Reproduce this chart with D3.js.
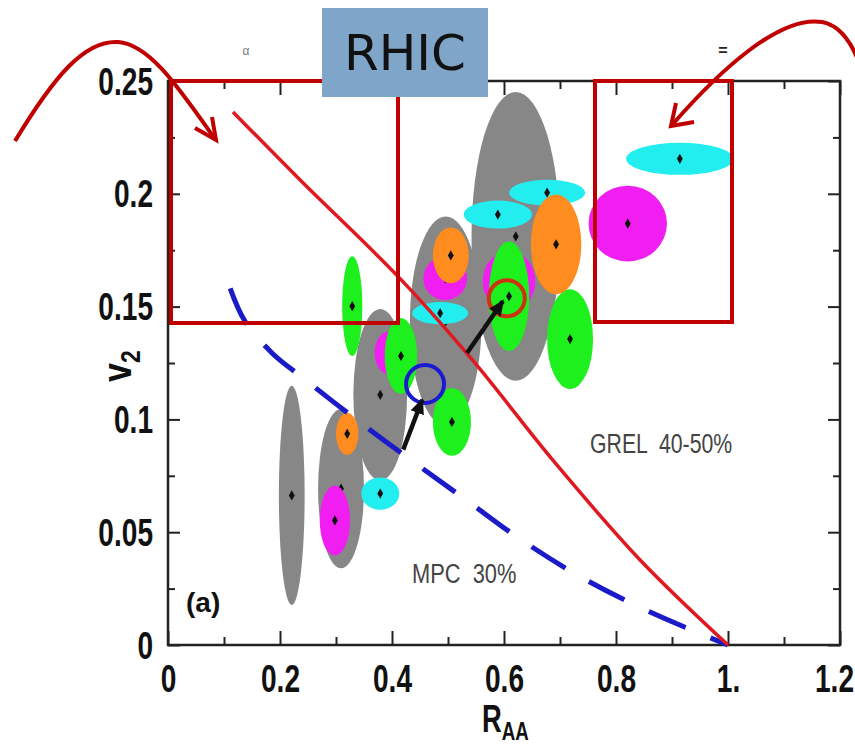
<!DOCTYPE html>
<meta charset="utf-8">
<style>
  body { margin: 0; background: #fff; }
  svg { display: block; font-family: 'Liberation Sans', Arial, sans-serif; }
  .domain { stroke: none; }
  .tick line { stroke: #222; stroke-width: 2; }
</style>
<body>
<script src="https://d3js.org/d3.v7.min.js"></script>
<script>
var width = 855, height = 747;

// data: centre (x = R_AA, y = v2) and half extents ex, ey
var grayPts = [
  {x: 0.221, y: 0.0663, ex: 0.023, ey: 0.0486},
  {x: 0.309, y: 0.0693, ex: 0.041, ey: 0.0353},
  {x: 0.379, y: 0.1109, ex: 0.048, ey: 0.038},
  {x: 0.496, y: 0.1435, ex: 0.064, ey: 0.0464},
  {x: 0.621, y: 0.1811, ex: 0.079, ey: 0.064}
];
var cyanPts = [
  {x: 0.379, y: 0.0671, ex: 0.034, ey: 0.0071},
  {x: 0.486, y: 0.1471, ex: 0.05, ey: 0.0049},
  {x: 0.589, y: 0.1908, ex: 0.061, ey: 0.0062},
  {x: 0.677, y: 0.2005, ex: 0.068, ey: 0.0057},
  {x: 0.914, y: 0.2155, ex: 0.096, ey: 0.0071}
];
var magentaPts = [
  {x: 0.298, y: 0.0552, ex: 0.027, ey: 0.0155},
  {x: 0.396, y: 0.1294, ex: 0.027, ey: 0.0097},
  {x: 0.495, y: 0.1625, ex: 0.039, ey: 0.0097},
  {x: 0.609, y: 0.1612, ex: 0.047, ey: 0.0133},
  {x: 0.821, y: 0.1868, ex: 0.07, ey: 0.0168}
];
var greenPts = [
  {x: 0.329, y: 0.1502, ex: 0.018, ey: 0.0221},
  {x: 0.416, y: 0.1281, ex: 0.029, ey: 0.0168},
  {x: 0.507, y: 0.0989, ex: 0.034, ey: 0.015},
  {x: 0.609, y: 0.1546, ex: 0.036, ey: 0.0243},
  {x: 0.718, y: 0.1356, ex: 0.041, ey: 0.0221}
];
var orangePts = [
  {x: 0.320, y: 0.0936, ex: 0.020, ey: 0.0093},
  {x: 0.505, y: 0.1727, ex: 0.032, ey: 0.0124},
  {x: 0.693, y: 0.1776, ex: 0.045, ey: 0.0221}
];

// model curves
var grelCurve = [
  [0.116, 0.2363], [0.236, 0.2061], [0.414, 0.1625], [0.545, 0.1259],
  [0.688, 0.0817], [0.843, 0.0377], [1.0, 0]
];
var mpcCurve = [
  [0.111, 0.1581], [0.1375, 0.1435], [0.1875, 0.129], [0.241, 0.1184],
  [0.316, 0.1038], [0.423, 0.0839], [0.529, 0.0649], [0.632, 0.0464],
  [0.741, 0.0296], [0.861, 0.0146], [1.0, 0]
];

// open circles and arrows
var blueCircle = [0.459, 0.1157];
var redCircle = [0.605, 0.1537];
var arrowFrom = [[0.420, 0.0866], [0.534, 0.1294]];
var arrowTo = [[0.454, 0.1087], [0.598, 0.1524]];

var xTicks = [0, 0.2, 0.4, 0.6, 0.8, 1.0, 1.2];
var xTickLabels = ["0", "0.2", "0.4", "0.6", "0.8", "1.", "1.2"];
var xMinor = [0.1, 0.3, 0.5, 0.7, 0.9, 1.1];
var yTicks = [0, 0.05, 0.1, 0.15, 0.2, 0.25];
var yTickLabels = ["0", "0.05", "0.1", "0.15", "0.2", "0.25"];
var yMinor = [0.025, 0.075, 0.125, 0.175, 0.225];

var pLeft = 168, pRight = 840, pTop = 81, pBottom = 645;

var x = d3.scaleLinear().domain([0, 1.2]).range([pLeft, pRight]);
var y = d3.scaleLinear().domain([0, 0.25]).range([pBottom, pTop]);

var svg = d3.select("body").append("svg")
  .attr("width", width)
  .attr("height", height);

var defs = svg.append("defs");
defs.append("marker")
  .attr("id", "head")
  .attr("markerUnits", "userSpaceOnUse")
  .attr("markerWidth", 18).attr("markerHeight", 16)
  .attr("refX", 14).attr("refY", 8)
  .attr("orient", "auto")
  .append("path")
  .attr("d", "M0,1 L16,8 L0,15 z")
  .attr("fill", "#111");

var diamond = d3.symbol().type(d3.symbolDiamond).size(30);

function blobs(data, colour) {
  var g = svg.append("g");
  g.selectAll("ellipse").data(data).enter().append("ellipse")
    .attr("cx", function(d) { return x(d.x) })
    .attr("cy", function(d) { return y(d.y) })
    .attr("rx", function(d) { return x(d.x + d.ex) - x(d.x) })
    .attr("ry", function(d) { return y(d.y) - y(d.y + d.ey) })
    .attr("fill", colour);
  g.selectAll("path").data(data).enter().append("path")
    .attr("d", diamond)
    .attr("transform", function(d) { return "translate(" + x(d.x) + "," + y(d.y) + ")" })
    .attr("fill", "#111");
}

blobs(grayPts, "#878787");
blobs(cyanPts, "#22eef0");
blobs(magentaPts, "#f01ef0");
blobs(greenPts, "#1ef01e");
blobs(orangePts, "#ff8c1e");

// frame
svg.append("rect")
  .attr("x", pLeft).attr("y", pTop)
  .attr("width", pRight - pLeft).attr("height", pBottom - pTop)
  .attr("fill", "none").attr("stroke", "#222").attr("stroke-width", 2.5);

// axes, ticks pointing inwards
var gx = svg.append("g").attr("transform", "translate(0," + pBottom + ")")
  .call(d3.axisBottom(x).tickValues(xTicks).tickFormat(function(d, i) { return xTickLabels[i] })
    .tickSizeInner(-14).tickSizeOuter(0));
gx.selectAll("text")
  .attr("y", 0).attr("dy", null)
  .attr("transform", function(d, i) {
    return "translate(" + (i == xTicks.length - 1 ? -6 : 0) + ",47) scale(0.72,1)"
  })
  .style("font-size", "39px").style("font-weight", "bold")
  .attr("fill", "#111").attr("font-family", "'Liberation Sans', Arial, sans-serif");
svg.append("g").attr("transform", "translate(0," + pBottom + ")")
  .call(d3.axisBottom(x).tickValues(xMinor).tickFormat("").tickSizeInner(-8).tickSizeOuter(0));
svg.append("g").attr("transform", "translate(0," + pTop + ")")
  .call(d3.axisTop(x).tickValues(xTicks).tickFormat("").tickSizeInner(-14).tickSizeOuter(0));
svg.append("g").attr("transform", "translate(0," + pTop + ")")
  .call(d3.axisTop(x).tickValues(xMinor).tickFormat("").tickSizeInner(-8).tickSizeOuter(0));

var gy = svg.append("g").attr("transform", "translate(" + pLeft + ",0)")
  .call(d3.axisLeft(y).tickValues(yTicks).tickFormat(function(d, i) { return yTickLabels[i] })
    .tickSizeInner(-12).tickSizeOuter(0));
gy.selectAll("text")
  .attr("x", 0).attr("dy", null)
  .attr("transform", "translate(-15,13) scale(0.72,1)")
  .style("font-size", "39px").style("font-weight", "bold")
  .attr("fill", "#111").attr("font-family", "'Liberation Sans', Arial, sans-serif");
svg.append("g").attr("transform", "translate(" + pLeft + ",0)")
  .call(d3.axisLeft(y).tickValues(yMinor).tickFormat("").tickSizeInner(-7).tickSizeOuter(0));
svg.append("g").attr("transform", "translate(" + pRight + ",0)")
  .call(d3.axisRight(y).tickValues(yTicks).tickFormat("").tickSizeInner(-12).tickSizeOuter(0));
svg.append("g").attr("transform", "translate(" + pRight + ",0)")
  .call(d3.axisRight(y).tickValues(yMinor).tickFormat("").tickSizeInner(-7).tickSizeOuter(0));

// axis titles
var xt = svg.append("text")
  .attr("transform", "translate(482,732) scale(0.72,1)")
  .style("font-size", "38px").style("font-weight", "bold").attr("fill", "#111");
xt.append("tspan").text("R");
xt.append("tspan").attr("dy", 8).style("font-size", "26px").text("AA");

var yt = svg.append("text")
  .attr("transform", "translate(131,382) rotate(-90) scale(0.85,1)")
  .style("font-size", "40px").style("font-weight", "bold").attr("fill", "#111");
yt.append("tspan").text("v");
yt.append("tspan").attr("dy", 9).style("font-size", "27px").text("2");

// model curves
var line = d3.line()
  .x(function(d) { return x(d[0]) })
  .y(function(d) { return y(d[1]) })
  .curve(d3.curveCatmullRom);

svg.append("path").datum(mpcCurve)
  .attr("d", line)
  .attr("fill", "none").attr("stroke", "#1a1ac8")
  .attr("stroke-width", 5).attr("stroke-dasharray", "40,27");

svg.append("path").datum(grelCurve)
  .attr("d", line)
  .attr("fill", "none").attr("stroke", "#e01820").attr("stroke-width", 3.5);

// circles and arrows
svg.append("circle")
  .attr("cx", x(blueCircle[0])).attr("cy", y(blueCircle[1])).attr("r", 19)
  .attr("fill", "none").attr("stroke", "#1a1ad0").attr("stroke-width", 4);
svg.append("circle")
  .attr("cx", x(redCircle[0])).attr("cy", y(redCircle[1])).attr("r", 18)
  .attr("fill", "none").attr("stroke", "#cc3311").attr("stroke-width", 4);

svg.selectAll("line.arrow").data(arrowFrom).enter().append("line")
  .attr("class", "arrow")
  .attr("x1", function(d) { return x(d[0]) })
  .attr("y1", function(d) { return y(d[1]) })
  .attr("x2", function(d, i) { return x(arrowTo[i][0]) })
  .attr("y2", function(d, i) { return y(arrowTo[i][1]) })
  .attr("stroke", "#111").attr("stroke-width", 4.5)
  .attr("marker-end", "url(#head)");

// labels inside the plot
svg.append("text")
  .attr("transform", "translate(590,453) scale(0.76,1)")
  .style("font-size", "28px").attr("fill", "#444")
  .attr("xml:space", "preserve")
  .text("GREL  40-50%");
svg.append("text")
  .attr("transform", "translate(412,583) scale(0.78,1)")
  .style("font-size", "28px").attr("fill", "#444")
  .attr("xml:space", "preserve")
  .text("MPC  30%");
svg.append("text")
  .attr("x", 186).attr("y", 612)
  .style("font-size", "28px").style("font-weight", "bold").attr("fill", "#111")
  .text("(a)");

// stray marks above the frame
svg.append("text").attr("x", 246).attr("y", 55).attr("text-anchor", "middle")
  .style("font-size", "12px").attr("fill", "#777").text("\u03b1");
svg.append("text").attr("x", 723).attr("y", 56).attr("text-anchor", "middle")
  .style("font-size", "16px").style("font-weight", "bold").attr("fill", "#222").text("=");

// red highlight boxes
var boxRed = "#c00000";
svg.append("rect").attr("x", 171).attr("y", 81).attr("width", 227).attr("height", 242)
  .attr("fill", "none").attr("stroke", boxRed).attr("stroke-width", 4);
svg.append("rect").attr("x", 595).attr("y", 81).attr("width", 137).attr("height", 241)
  .attr("fill", "none").attr("stroke", boxRed).attr("stroke-width", 4);

// curved pointer arrows
svg.append("path")
  .attr("d", "M15,141 C55,75 85,40 118,42 C150,44 180,90 215,139")
  .attr("fill", "none").attr("stroke", boxRed).attr("stroke-width", 4);
svg.append("path")
  .attr("d", "M195,128 L216,140 L212,117")
  .attr("fill", "none").attr("stroke", boxRed).attr("stroke-width", 4);
svg.append("path")
  .attr("d", "M672,125 C720,70 780,15 822,22 C838,25 850,40 858,60")
  .attr("fill", "none").attr("stroke", boxRed).attr("stroke-width", 4);
svg.append("path")
  .attr("d", "M694,122 L671,126 L676,103")
  .attr("fill", "none").attr("stroke", boxRed).attr("stroke-width", 4);

// RHIC tag
svg.append("rect").attr("x", 322).attr("y", 8).attr("width", 166).attr("height", 89)
  .attr("fill", "#7fa6c8");
svg.append("text").attr("x", 405).attr("y", 70).attr("text-anchor", "middle")
  .style("font-family", "'DejaVu Sans', Verdana, sans-serif")
  .style("font-size", "50px").attr("fill", "#111").text("RHIC");
</script>
</body>
